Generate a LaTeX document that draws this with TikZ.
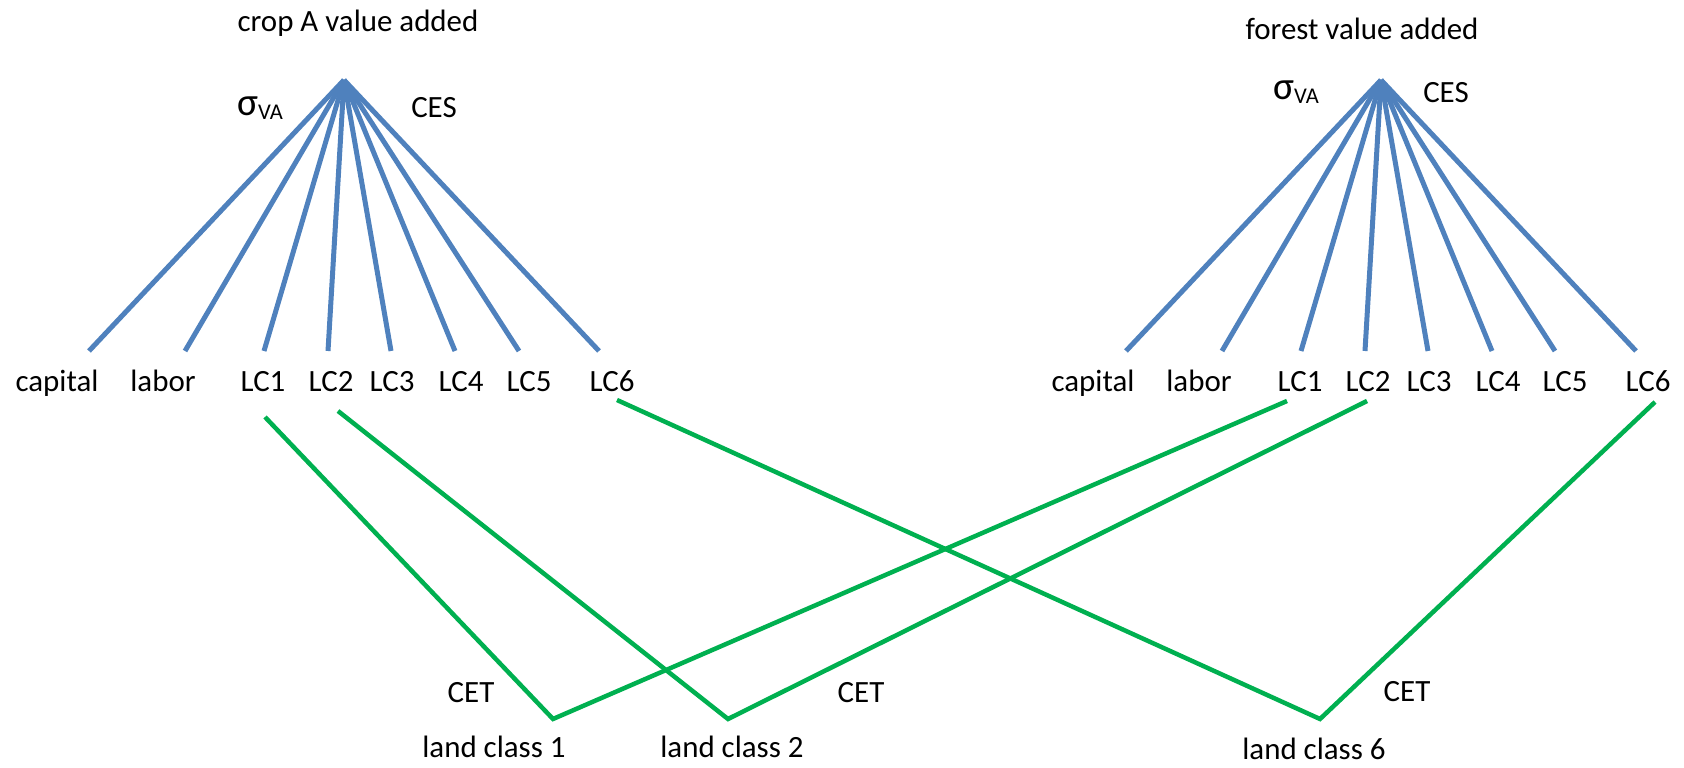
\documentclass[tikz,border=0pt]{standalone}
\usepackage{fontspec}
\setmainfont{Carlito}
\definecolor{vablue}{HTML}{4F81BD}
\definecolor{cetgreen}{HTML}{00B050}
\newcommand{\sigVA}{{\fontsize{11.2}{12}\selectfont σ}\raisebox{-1pt}{\fontsize{6.4}{7}\selectfont VA}}
\begin{document}
\begin{tikzpicture}[x=0.1mm,y=-0.1mm,
  lbl/.style={inner sep=0pt, anchor=base, font=\fontsize{8.8}{10}\selectfont},
  cesline/.style={draw=vablue, line width=0.5mm},
  cetline/.style={draw=cetgreen, line width=0.45mm}]
\useasboundingbox (0,0) rectangle (1684,768);

% ---------- crop A nest ----------
\node[lbl] (ttlA) at (358,32) {crop A value added};
\coordinate (apA) at (344,80);
\node[lbl] (sigA) at (260,116) {\sigVA};
\node[lbl] (cesA) at (434,118) {CES};
\foreach \nm/\lx/\ex/\txt in {cap/57/89/capital, lab/163/185/labor, c1/263/264/LC1, c2/331/328/LC2,
   c3/392/391/LC3, c4/461/455/LC4, c5/529/519/LC5, c6/612/599/LC6}{
  \node[lbl] (A\nm) at (\lx,392) {\txt};
  \coordinate (eA\nm) at (\ex,351);
  \draw[cesline] (apA) -- (eA\nm);
}

% ---------- forest nest ----------
\node[lbl] (ttlF) at (1362,40) {forest value added};
\coordinate (apF) at (1381,80);
\node[lbl] (sigF) at (1296,100) {\sigVA};
\node[lbl] (cesF) at (1446,103) {CES};
\foreach \nm/\lx/\ex/\txt in {cap/1093/1126/capital, lab/1199/1222/labor, c1/1300/1301/LC1, c2/1368/1365/LC2,
   c3/1429/1428/LC3, c4/1498/1492/LC4, c5/1565/1555/LC5, c6/1648/1636/LC6}{
  \node[lbl] (F\nm) at (\lx,392) {\txt};
  \coordinate (eF\nm) at (\ex,351);
  \draw[cesline] (apF) -- (eF\nm);
}

% ---------- land class CET ----------
\coordinate (gA1) at (265,417);
\coordinate (gA2) at (338,411);
\coordinate (gA6) at (617,400);
\coordinate (gF1) at (1287,401);
\coordinate (gF2) at (1367,401);
\coordinate (gF6) at (1655,402);
\coordinate (lc1) at (553,719);
\coordinate (lc2) at (728,719);
\coordinate (lc6) at (1320,719);

\draw[cetline] (gA1) -- (lc1) -- (gF1);
\draw[cetline] (gA2) -- (lc2) -- (gF2);
\draw[cetline] (gA6) -- (lc6) -- (gF6);

\node[lbl] (cet1) at (471,703) {CET};
\node[lbl] (cet2) at (861,703) {CET};
\node[lbl] (cet6) at (1407,702) {CET};
\node[lbl] (land1) at (494,758) {land class 1};
\node[lbl] (land2) at (732,758) {land class 2};
\node[lbl] (land6) at (1314,760) {land class 6};
\end{tikzpicture}
\end{document}
